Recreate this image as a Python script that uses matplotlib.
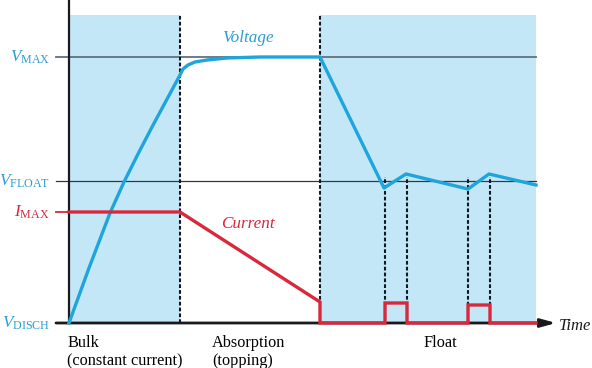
#!/usr/bin/env python3
"""Three-stage battery charge profile: bulk, absorption, float."""
import matplotlib
matplotlib.use("Agg")
import matplotlib.pyplot as plt

plt.rcParams["font.family"] = ["Liberation Serif", "DejaVu Serif"]
plt.rcParams["mathtext.fontset"] = "custom"
plt.rcParams["mathtext.rm"] = "Liberation Serif"
plt.rcParams["mathtext.it"] = "Liberation Serif:italic"

# time axis in arbitrary units, level axis in arbitrary units (0 = V_DISCH)
volt_t = [0, 20, 41, 55, 69, 83, 97, 111, 114, 119, 126, 138, 158, 191, 251,
          315, 337, 399, 420, 467]
volt_v = [0, 55, 110, 141, 169, 196, 222, 248, 254, 258, 261, 263, 265, 266, 266,
          135, 149, 134, 149, 138]

curr_t = [0, 111, 251, 251, 316, 316, 338, 338, 399, 399, 421, 421, 467]
curr_v = [111, 111, 21, 0, 0, 20, 20, 0, 0, 18, 18, 0, 0]

V_MAX, V_FLOAT, I_MAX, V_DISCH = 266, 142, 111, 0
phase_edges = [0, 111, 251, 467]     # bulk | absorption | float
pulse_edges = [316, 338, 399, 421]   # float recharge pulses
shade_top = 308

level_labels = [r"$V_{\mathrm{MAX}}$", r"$V_{\mathrm{FLOAT}}$",
                r"$I_{\mathrm{MAX}}$", r"$V_{\mathrm{DISCH}}$"]
phase_labels = ["Bulk\n(constant current)", "Absorption\n(topping)", "Float"]

BLUE = "#1ea5db"
BLUE_TXT = "#2a9fd0"
RED = "#d9283c"
SHADE = "#c4e7f8"

fig = plt.figure(figsize=(5.92, 3.68), dpi=100)
ax = fig.add_axes([0, 0, 1, 1])
ax.set_xlim(-69, 523)
ax.set_ylim(-45, 323)
ax.axis("off")

# shaded stages
ax.fill_between([phase_edges[0], phase_edges[1]], 0, shade_top, color=SHADE, lw=0, zorder=0)
ax.fill_between([phase_edges[2], phase_edges[3]], 0, shade_top, color=SHADE, lw=0, zorder=0)

# reference levels
ax.plot([-13, phase_edges[3]], [V_MAX, V_MAX], color="#5d7282", lw=1.3, zorder=1)
ax.plot([-13, phase_edges[3]], [V_FLOAT, V_FLOAT], color="#2b3a44", lw=0.9, zorder=1)
ax.plot([-13, 0], [I_MAX, I_MAX], color=RED, lw=1.3, zorder=1)

# dashed stage / pulse markers
for t in phase_edges[1:3]:
    ax.plot([t, t], [0, shade_top], color="#111a22", lw=1.5, dashes=(1.8, 1.0), zorder=2)
for t in pulse_edges:
    ax.plot([t, t], [0, V_FLOAT + 4], color="#111a22", lw=1.5, dashes=(1.8, 1.0), zorder=2)

# axes
ax.plot([0, 0], [0, 323], color="#1a1a1a", lw=1.6, zorder=3)
ax.annotate("", xy=(487, 0), xytext=(-13, 0),
            arrowprops=dict(arrowstyle="-|>,head_length=0.9,head_width=0.25",
                            color="#1a1a1a", lw=2.0, shrinkA=0, shrinkB=0), zorder=3)

# curves
ax.plot(volt_t, volt_v, color=BLUE, lw=2.4, solid_joinstyle="round", zorder=4)
ax.plot(curr_t, curr_v, color=RED, lw=2.4, solid_joinstyle="miter", zorder=4)

# level labels
for lab, lev, col in zip(level_labels, [V_MAX, V_FLOAT, I_MAX, V_DISCH],
                         [BLUE_TXT, BLUE_TXT, RED, BLUE_TXT]):
    ax.text(-19, lev, lab, color=col, fontsize=12.3, ha="right", va="center")

ax.text(179, 285, "Voltage", color=BLUE_TXT, fontsize=12.3, style="italic",
        ha="center", va="center")
ax.text(179, 99, "Current", color=RED, fontsize=12.3, style="italic",
        ha="center", va="center")
ax.text(490, -3, "Time", color="#1a1a1a", fontsize=12, style="italic",
        ha="left", va="center")

for t, lab in zip([-2, 143, 354], phase_labels):
    ax.text(t, -12, lab, fontsize=11.7, ha="left", va="top", linespacing=1.2)

fig.savefig("out.png", dpi=100)
